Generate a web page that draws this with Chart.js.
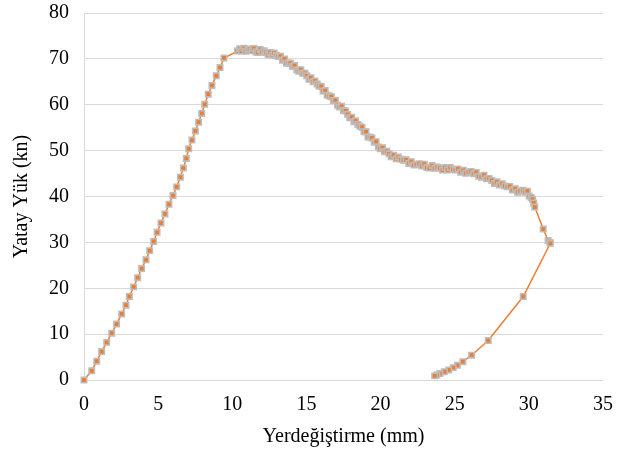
<!DOCTYPE html>
<html>
<head>
<meta charset="utf-8">
<script src="https://cdn.jsdelivr.net/npm/chart.js@4"></script>
<style>
  html, body { margin: 0; padding: 0; background: #fff; }
  #wrap { width: 631px; height: 452px; }
</style>
</head>
<body>
<div id="wrap"><canvas id="chart" width="631" height="452"></canvas></div>
<script>
// displacement (mm) and lateral load (kN)
const disp = [
  0, 0.52, 0.86, 1.19, 1.53, 1.87, 2.2, 2.54, 2.83, 3.06, 3.35, 3.62, 3.89, 4.18, 4.43, 4.7, 4.93, 5.19, 5.46, 5.73,
  6.0, 6.25, 6.5, 6.7, 6.9, 7.06, 7.28, 7.51, 7.73, 7.94, 8.14, 8.38, 8.63, 8.92, 9.17, 9.44,
  10.35, 10.50, 10.62, 10.78, 10.90, 11.05, 11.18, 11.32, 11.45, 11.60,
  11.72, 11.88, 12.00, 12.15, 12.28, 12.42, 12.55, 12.70, 12.82, 12.97,
  13.10, 13.25, 13.38, 13.52, 13.65, 13.80, 13.92, 14.07, 14.20, 14.35,
  14.48, 14.62, 14.75, 14.90, 15.02, 15.17, 15.30, 15.45, 15.58, 15.72,
  15.85, 16.00, 16.12, 16.27, 16.40, 16.55, 16.68, 16.82, 16.95, 17.10,
  17.22, 17.37, 17.50, 17.65, 17.78, 17.92, 18.05, 18.20, 18.32, 18.47,
  18.60, 18.75, 18.88, 19.02, 19.15, 19.30, 19.42, 19.57, 19.70, 19.85,
  19.98, 20.13, 20.27, 20.42, 20.57, 20.72, 20.88, 21.05, 21.20, 21.38,
  21.55, 21.72, 21.90, 22.07, 22.25, 22.42, 22.60, 22.78, 22.95, 23.12,
  23.30, 23.48, 23.65, 23.82, 24.00, 24.18, 24.35, 24.52, 24.70, 24.88,
  25.05, 25.22, 25.40, 25.58, 25.75, 25.92, 26.10, 26.28, 26.45, 26.62,
  26.80, 26.98, 27.15, 27.32, 27.50, 27.68, 27.85, 28.02, 28.20, 28.38,
  28.55, 28.72, 28.90, 29.08, 29.25, 29.42, 29.60, 29.75, 29.90, 30.02,
  30.15, 30.25, 30.33, 30.40,
  30.97, 31.30, 31.42, 31.45, 29.62, 27.26, 26.14, 25.55, 25.18, 24.9, 24.6, 24.3, 24.0, 23.8, 23.65
];
const load = [
  0, 2.0, 4.1, 6.2, 8.2, 10.2, 12.2, 14.4, 16.3, 18.2, 20.3, 22.3, 24.3, 26.2, 28.2, 30.2, 32.2, 34.2, 36.2, 38.3,
  40.2, 42.1, 44.2, 46.2, 48.3, 50.4, 52.3, 54.3, 56.2, 58.1, 60.1, 62.3, 64.2, 66.3, 68.1, 70.2,
  71.7, 72.2, 71.7, 72.3, 71.65, 72.0, 72.15, 71.75, 72.25, 71.5,
  71.4, 72.05, 71.45, 71.75, 71.4, 70.95, 71.4, 70.8, 71.3, 70.8,
  70.5, 70.6, 69.7, 70.0, 69.05, 69.1, 69.05, 68.35, 68.55, 67.6,
  67.3, 67.65, 66.85, 66.85, 66.3, 65.55, 65.9, 65.0, 65.2, 64.5,
  64.1, 64.0, 63.0, 63.1, 62.05, 61.9, 61.75, 60.95, 60.95, 59.9,
  59.5, 59.65, 58.75, 58.65, 57.9, 57.15, 57.3, 56.3, 56.5, 55.7,
  55.3, 55.1, 54.1, 54.1, 52.95, 52.9, 52.75, 51.85, 51.95, 50.8,
  50.4, 50.65, 49.75, 49.85, 49.3, 48.65, 49.0, 48.2, 48.6, 48.1,
  47.9, 48.0, 47.2, 47.6, 46.85, 47.0, 47.15, 46.65, 47.05, 46.3,
  46.2, 46.75, 46.15, 46.45, 46.2, 45.75, 46.3, 45.8, 46.3, 45.9,
  45.8, 46.0, 45.3, 45.7, 45.05, 45.3, 45.45, 44.95, 45.25, 44.4,
  44.2, 44.65, 43.85, 43.95, 43.5, 42.85, 43.2, 42.5, 42.8, 42.3,
  42.1, 42.2, 41.4, 41.7, 40.95, 41.2, 41.35, 40.95, 41.15, 40.1,
  39.8, 39.4, 38.6, 37.7,
  32.9, 30.4, 30.0, 29.8, 18.2, 8.6, 5.4, 4.0, 3.2, 2.7, 2.2, 1.8, 1.4, 1.1, 0.9
];
const xTicks = { min: 0, max: 35, step: 5 };
const yTicks = { min: 0, max: 80, step: 10 };

const points = disp.map((x, i) => ({ x: x, y: load[i] }));
const font = { family: "'Liberation Serif', 'Times New Roman', serif", size: 20 };

new Chart(document.getElementById('chart'), {
  type: 'scatter',
  data: {
    datasets: [{
      data: points,
      showLine: true,
      borderColor: '#ED7D31',
      borderWidth: 1.5,
      pointStyle: 'rect',
      pointRadius: 3.8,
      pointBorderWidth: 1.6,
      pointBackgroundColor: '#ED7D31',
      pointBorderColor: '#BDBDBD',
      clip: false
    }]
  },
  options: {
    responsive: false,
    animation: false,
    devicePixelRatio: 1,
    layout: { padding: { left: 0, right: 28, top: 13, bottom: 0 } },
    plugins: { legend: { display: false }, tooltip: { enabled: false } },
    scales: {
      x: {
        type: 'linear',
        min: xTicks.min, max: xTicks.max,
        ticks: { stepSize: xTicks.step, font: font, color: '#000', padding: 13, maxRotation: 0 },
        grid: { display: false, drawTicks: false },
        border: { display: false },
        title: { display: true, text: 'Yerdeğiştirme (mm)', font: font, color: '#000', padding: { top: 0, bottom: 3 } },
        afterFit: (s) => { s.height = 72; }
      },
      y: {
        min: yTicks.min, max: yTicks.max,
        // invisible tick marks push the labels left without adding top padding
        ticks: { stepSize: yTicks.step, font: font, color: '#000', padding: 0 },
        grid: { color: '#D9D9D9', lineWidth: 1, drawTicks: true, tickLength: 15, tickColor: 'rgba(0,0,0,0)' },
        border: { display: true, color: '#D9D9D9' },
        title: { display: true, text: 'Yatay Yük (kn)', font: font, color: '#000', padding: { top: 10, bottom: 0 } },
        afterFit: (s) => { s.width = 84; }
      }
    }
  }
});
</script>
</body>
</html>
